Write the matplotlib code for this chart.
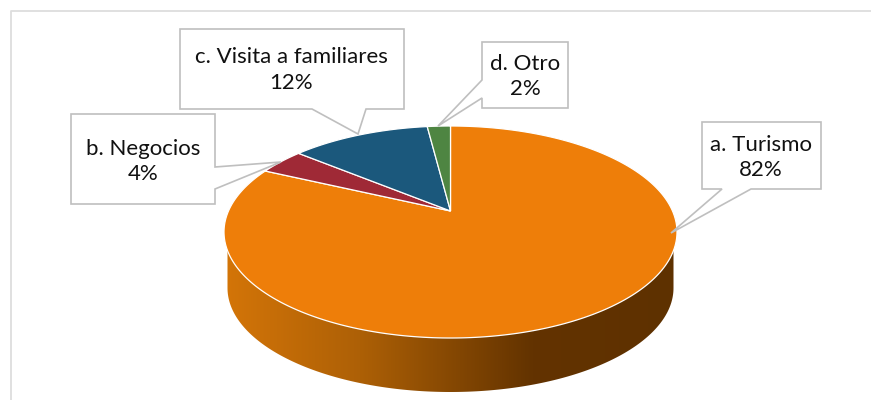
import matplotlib
matplotlib.use("Agg")
import matplotlib.pyplot as plt
import numpy as np
from matplotlib.colors import LinearSegmentedColormap
from matplotlib.patches import Polygon

plt.rcParams["font.family"] = ["Lato", "DejaVu Sans"]

LABELS = ["a. Turismo", "b. Negocios", "c. Visita a familiares", "d. Otro"]
VALUES = [82, 4, 12, 2]
COLORS = ["#EE7E09", "#9F2936", "#1B587C", "#4E8542"]

# pie geometry in pixels, the top face is a tilted disc so the apex sits above the ellipse centre
CX, CY, RX, RY = 450.5, 232, 226.5, 106
APEX_SHIFT = 21 / 106
BASE_CY, BASE_RX, BASE_RY = 288, 223, 104
SIDE_TOP = 250

# box (x0, y0, x1, y1), side the tail leaves from, tail points, text anchor
CALLOUTS = [
    dict(box=(702, 122, 821, 189), side="bottom", tail=[(751, 189), (671, 233), (722, 189)], text=(761, 157.5)),
    dict(box=(71, 114, 215, 204), side="right", tail=[(215, 167), (281, 162), (215, 189)], text=(143, 161.5)),
    dict(box=(180, 29, 404, 109), side="bottom", tail=[(366, 109), (358, 134), (312, 109)], text=(291, 70)),
    dict(box=(482, 42, 568, 108), side="left", tail=[(482, 98), (438, 126), (482, 80)], text=(525, 76.5)),
]


def disc_points(theta):
    # perspective mapping of the unit circle, keeps the circle but moves its centre
    u, v = np.cos(theta), np.sin(theta)
    k = APEX_SHIFT
    den = 1 + k * v
    x = u * np.sqrt(1 - k**2) / den
    y = (v + k) / den
    return CX + RX * x, CY - RY * y


def draw_side(ax):
    t = np.linspace(np.pi, 2 * np.pi, 200)
    xs = CX + BASE_RX * np.cos(t)
    ys = BASE_CY - BASE_RY * np.sin(t)
    xs = np.r_[CX - BASE_RX, xs, CX + BASE_RX]
    ys = np.r_[SIDE_TOP, ys, SIDE_TOP]
    clip = Polygon(np.c_[xs, ys], closed=True, transform=ax.transData, fc="none", ec="none")
    ax.add_patch(clip)

    cmap = LinearSegmentedColormap.from_list(
        "side", [(0, "#D47508"), (0.3, "#AD6006"), (0.68, "#633300"), (1, "#5E3100")]
    )
    grad = np.linspace(0, 1, 256).reshape(1, -1)
    im = ax.imshow(
        grad, cmap=cmap, aspect="auto", interpolation="bilinear",
        extent=(CX - RX, CX + RX, 400, SIDE_TOP), zorder=1,
    )
    im.set_clip_path(clip)


def draw_top(ax):
    # clockwise from twelve o'clock, as in the original
    edges = np.cumsum([0] + VALUES) / sum(VALUES)
    apex = (CX, CY - RY * APEX_SHIFT)
    for start, end, color in zip(edges[:-1], edges[1:], COLORS):
        theta = np.pi / 2 - 2 * np.pi * np.linspace(start, end, 300)
        x, y = disc_points(theta)
        pts = np.c_[np.r_[apex[0], x], np.r_[apex[1], y]]
        ax.add_patch(Polygon(pts, closed=True, fc=color, ec="#FFFFFF", lw=0.9, zorder=2))


def callout_outline(c):
    # walk the box clockwise and put the tail in on its side
    x0, y0, x1, y1 = c["box"]
    tl, tr, br, bl = (x0, y0), (x1, y0), (x1, y1), (x0, y1)
    if c["side"] == "bottom":
        return [tl, tr, br] + c["tail"] + [bl]
    if c["side"] == "right":
        return [tl, tr] + c["tail"] + [br, bl]
    return [tl, tr, br, bl] + c["tail"]


def draw_callouts(ax):
    for label, value, c in zip(LABELS, VALUES, CALLOUTS):
        ax.add_patch(Polygon(callout_outline(c), closed=True, fc="white", ec="#BFBFBF", lw=1.2,
                             zorder=3, joinstyle="miter"))
        ax.text(c["text"][0], c["text"][1], f"{label}\n{value}%", ha="center", va="center",
                fontsize=16, color="#111111", linespacing=1.34, zorder=4)


def main():
    fig = plt.figure(figsize=(8.71, 4.0), dpi=100)
    ax = fig.add_axes([0, 0, 1, 1])

    draw_side(ax)
    draw_top(ax)
    draw_callouts(ax)

    # chart frame, only left and top are inside the crop
    ax.plot([10.5, 10.5, 871], [400, 11, 11], color="#DDDDDD", lw=1.3, zorder=0)

    ax.set_xlim(0, 871)
    ax.set_ylim(400, 0)
    ax.axis("off")
    fig.savefig("out.png", dpi=100)
    plt.close(fig)


if __name__ == "__main__":
    main()
